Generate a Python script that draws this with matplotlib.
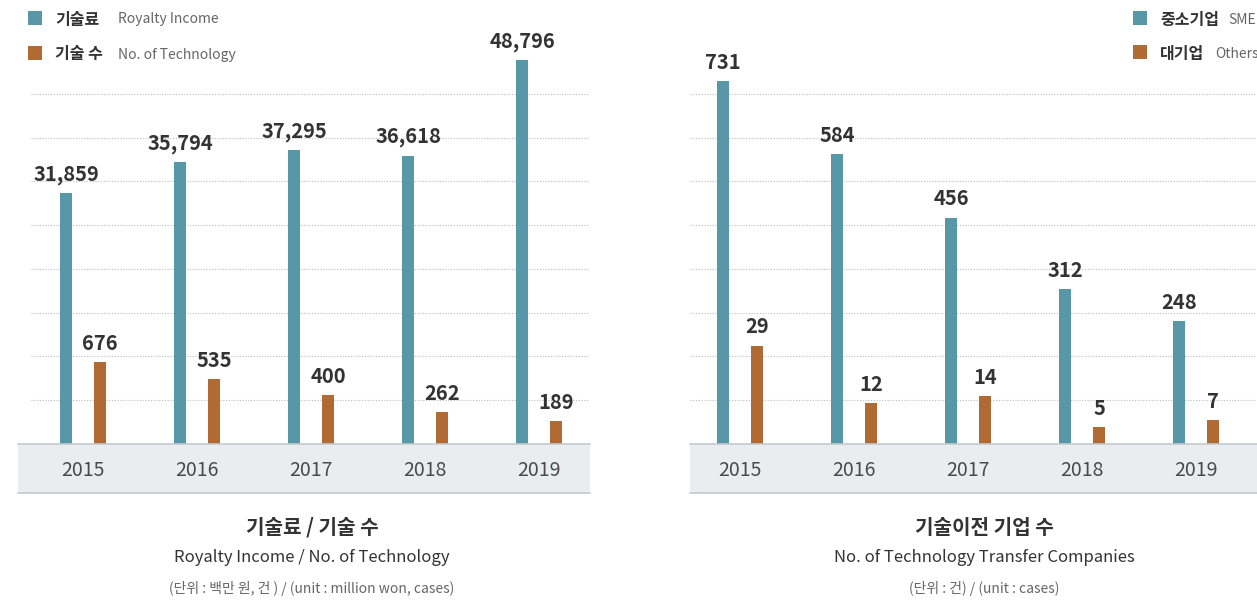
import matplotlib
matplotlib.use("Agg")
from matplotlib import pyplot as plt
from matplotlib.patches import Rectangle
import numpy as np

plt.rcParams['font.family'] = ['Noto Sans CJK KR', 'DejaVu Sans']

W, H = 1257, 602

BLUE = "#5797a7"
ORANGE = "#b06b35"
BAND = "#e9edf0"
DARK = "#333333"
GREY = "#666666"

years = ["2015", "2016", "2017", "2018", "2019"]

royalty = [31859, 35794, 37295, 36618, 48796]
tech_count = [676, 535, 400, 262, 189]

sme = [731, 584, 456, 312, 248]
others = [29, 12, 14, 5, 7]


def fx(px):
	return px / W


def fy(py):
	return 1 - py / H


def panel(fig, left, right, band_left, xlim, blue_vals, orange_vals, blue_top, orange_top, fmt):
	top, base = 50, 444
	ax = fig.add_axes([fx(left), fy(base), fx(right - left), (base - top) / H])
	x = np.arange(len(years))
	ax.set_xlim(*xlim)
	ax.set_ylim(0, 9)
	ax.set_yticks(np.arange(1, 9))
	ax.yaxis.grid(True, color="#bdbdbd", linestyle=(0, (1, 1.5)), linewidth=0.8)
	ax.tick_params(axis="y", length=0, labelleft=False)
	ax.set_xticks(x)
	ax.set_xticklabels(years, fontsize=14, color="#4a4a4a")
	ax.tick_params(axis="x", length=0, pad=11.5)
	for s in ax.spines.values():
		s.set_visible(False)
	ax.patch.set_alpha(0)

	# gray band under the bars
	fig.add_artist(Rectangle((fx(band_left), fy(493)), fx(right - band_left), (493 - base) / H,
		transform=fig.transFigure, facecolor=BAND, edgecolor="none", zorder=0))
	fig.add_artist(plt.Line2D([fx(band_left), fx(right)], [fy(base), fy(base)],
		transform=fig.transFigure, color="#c4c9cc", lw=1.2, zorder=1))
	fig.add_artist(plt.Line2D([fx(band_left), fx(right)], [fy(493), fy(493)],
		transform=fig.transFigure, color="#c4c9cc", lw=1.2, zorder=1))

	axb = ax.twinx()
	axo = ax.twinx()
	axb.set_ylim(0, blue_top)
	axo.set_ylim(0, orange_top)
	axb.axis("off")
	axo.axis("off")
	axb.bar(x - 0.149, blue_vals, width=0.1, color=BLUE, zorder=3)
	axo.bar(x + 0.149, orange_vals, width=0.1, color=ORANGE, zorder=3)
	for i in range(len(x)):
		axb.annotate(fmt(blue_vals[i]), (x[i] - 0.149, blue_vals[i]), xytext=(0, 6),
			textcoords="offset points", ha="center", va="bottom",
			fontsize=14.5, fontweight="bold", color=DARK)
		axo.annotate(fmt(orange_vals[i]), (x[i] + 0.149, orange_vals[i]), xytext=(0, 6),
			textcoords="offset points", ha="center", va="bottom",
			fontsize=14.5, fontweight="bold", color=DARK)
	return ax


def legend_row(fig, sq_x, y, color, kor, eng, eng_x):
	fig.add_artist(Rectangle((fx(sq_x), fy(y + 7)), fx(14), 14 / H,
		transform=fig.transFigure, facecolor=color, edgecolor="none"))
	fig.text(fx(sq_x + 27), fy(y + 1.5), kor, fontsize=11.5, fontweight="bold", color=DARK, va="center")
	fig.text(fx(eng_x), fy(y + 1.5), eng, fontsize=10, color=GREY, va="center")


fig = plt.figure(figsize=(W / 100, H / 100), dpi=100)

panel(fig, 31, 590, 18, (-0.456, 4.447), royalty, tech_count, 50063, 3243,
	lambda v: f"{v:,}")
panel(fig, 690, 1257, 690, (-0.439, 4.535), sme, others, 794, 116,
	lambda v: f"{v:,}")

legend_row(fig, 28, 18, BLUE, "기술료", "Royalty Income", 118)
legend_row(fig, 28, 53, ORANGE, "기술 수", "No. of Technology", 118)
legend_row(fig, 1133, 18, BLUE, "중소기업", "SME", 1228)
legend_row(fig, 1133, 52, ORANGE, "대기업", "Others", 1215)

fig.text(fx(312), fy(527), "기술료 / 기술 수", fontsize=14.5, fontweight="bold", color=DARK, ha="center", va="center")
fig.text(fx(312), fy(558), "Royalty Income / No. of Technology", fontsize=12, color=DARK, ha="center", va="center")
fig.text(fx(312), fy(588), "(단위 : 백만 원, 건 ) / (unit : million won, cases)", fontsize=10, color=GREY, ha="center", va="center")

fig.text(fx(984), fy(527), "기술이전 기업 수", fontsize=14.5, fontweight="bold", color=DARK, ha="center", va="center")
fig.text(fx(984), fy(558), "No. of Technology Transfer Companies", fontsize=12, color=DARK, ha="center", va="center")
fig.text(fx(984), fy(588), "(단위 : 건) / (unit : cases)", fontsize=10, color=GREY, ha="center", va="center")

fig.savefig("out.png", dpi=100)
